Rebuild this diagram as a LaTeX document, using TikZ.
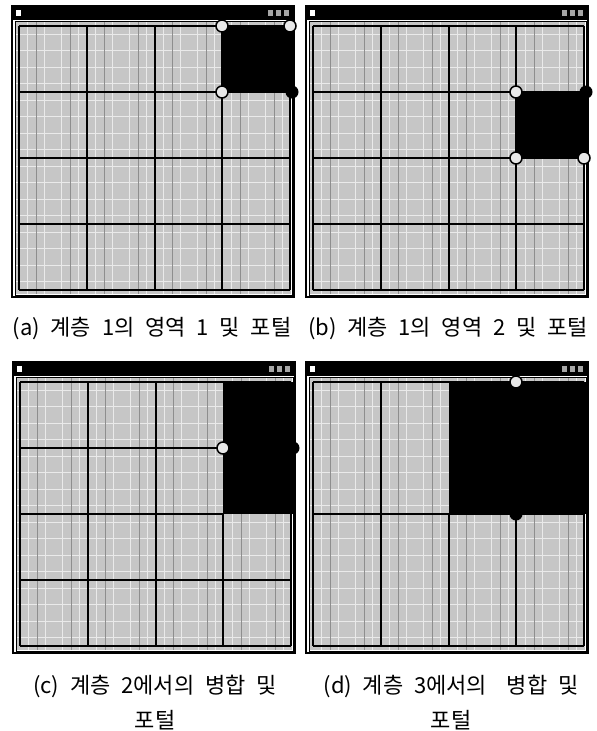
\documentclass[tikz,border=0pt]{standalone}
\usepackage{fontspec}
\newfontfamily\cjk[WordSpace=2.2]{Noto Sans CJK KR}
\usetikzlibrary{positioning}
\definecolor{mapgray}{HTML}{C6C6C6}
\definecolor{maplight}{HTML}{EAEAEA}
\definecolor{mapdark}{HTML}{8E8E8E}
\definecolor{ringfill}{HTML}{E8E8E8}
\tikzset{
  winframe/.style={draw=black, line width=1.4pt},
  innerframe/.style={draw=black, line width=0.9pt},
  subline/.style={draw=maplight, line width=1pt},
  subdark/.style={draw=mapdark, line width=0.4pt},
  gridline/.style={draw=black, line width=2.5pt},
  thinline/.style={draw=black, line width=1.1pt},
  region/.style={fill=black},
  portal/.style={circle, draw=black, line width=1.5pt, fill=ringfill, minimum size=12pt, inner sep=0pt},
  portaldot/.style={circle, fill=black, minimum size=13pt, inner sep=0pt},
  captext/.style={font=\cjk\fontsize{22}{35}\selectfont, align=center, inner sep=0pt},
  winbase/.pic={
    \fill[white] (0,0) rectangle (282,291);
    \fill[mapgray] (4,16) rectangle (279,288);
    \foreach \k in {0,...,15} {
      \draw[subline] (15+\k*17,16) -- (15+\k*17,288);
      \draw[subline] (4,28+\k*16.5) -- (279,28+\k*16.5);
    }
    \foreach \k in {0,...,7} \draw[subdark] (24+\k*34,16) -- (24+\k*34,288);
    \fill[black] (0,0) rectangle (282,14);
    \fill[white] (4,4) rectangle (9,10);
    \foreach \bx in {258,266,274} \fill[black!35] (\bx-2.5,4) rectangle (\bx+2.5,10);
    \draw[winframe] (0,0) rectangle (282,291);
    \draw[innerframe] (3,15) rectangle (280,289);
  },
}

\begin{document}
\begin{tikzpicture}[x=1pt,y=-1pt]
  \useasboundingbox[fill=white] (0,0) rectangle (597,731);

  % (a) level 1, region 1
  \begin{scope}[shift={(12,6)}]
    \pic {winbase};
    \foreach \x in {7,75,143,210,278} \draw[gridline] (\x,20) -- (\x,284);
    \foreach \y in {20,86,152,218,284} \draw[gridline] (7,\y) -- (278,\y);
    \fill[region] (210,20) rectangle (280,86);
    \node[portal] (a1) at (210,20) {};
    \node[portal] (a2) at (278,20) {};
    \node[portal] (a3) at (210,86) {};
    \node[portaldot] (a4) at (280,86) {};
  \end{scope}

  % (b) level 1, region 2
  \begin{scope}[shift={(306,6)}]
    \pic {winbase};
    \foreach \x in {7,75,143,210,278} \draw[gridline] (\x,20) -- (\x,284);
    \foreach \y in {20,86,152,218,284} \draw[gridline] (7,\y) -- (278,\y);
    \fill[region] (210,86) rectangle (280,152);
    \node[portal] (b1) at (210,86) {};
    \node[portal] (b2) at (210,152) {};
    \node[portal] (b3) at (278,152) {};
    \node[portaldot] (b4) at (280,86) {};
  \end{scope}

  % (c) merge at level 2
  \begin{scope}[shift={(13,362)}]
    \pic {winbase};
    \foreach \x in {7,278} \draw[gridline] (\x,20) -- (\x,284);
    \foreach \x in {75,143} \draw[gridline, line width=2pt] (\x,20) -- (\x,284);
    \draw[gridline, line width=2pt] (210,152) -- (210,284);
    \foreach \y in {20,86,218,284} \draw[gridline] (7,\y) -- (278,\y);
    \draw[thinline] (7,152) -- (210,152);
    \fill[region] (210,20) rectangle (280,152);
    \node[portal] (c1) at (210,86) {};
    \node[portaldot] (c2) at (280,86) {};
  \end{scope}

  % (d) merge at level 3
  \begin{scope}[shift={(306,362)}]
    \pic {winbase};
    \foreach \x in {7,75,278} \draw[gridline] (\x,20) -- (\x,284);
    \foreach \x in {143,210} \draw[gridline] (\x,152) -- (\x,284);
    \foreach \y in {20,152,284} \draw[gridline] (7,\y) -- (278,\y);
    \fill[region] (143,20) rectangle (280,152);
    \node[portal] (d1) at (210,20) {};
    \node[portaldot] (d2) at (210,152) {};
  \end{scope}

  \node[captext] (capa) at (152,329) {(a) 계층 1의 영역 1 및 포털};
  \node[captext] (capb) at (448,329) {(b) 계층 1의 영역 2 및 포털};
  \node[captext] (capc) at (155,703) {(c) 계층 2에서의 병합 및\\포털};
  \node[captext] (capd) at (451,703) {(d) 계층 3에서의\hspace{0.4em} 병합 및\\포털};
\end{tikzpicture}
\end{document}
